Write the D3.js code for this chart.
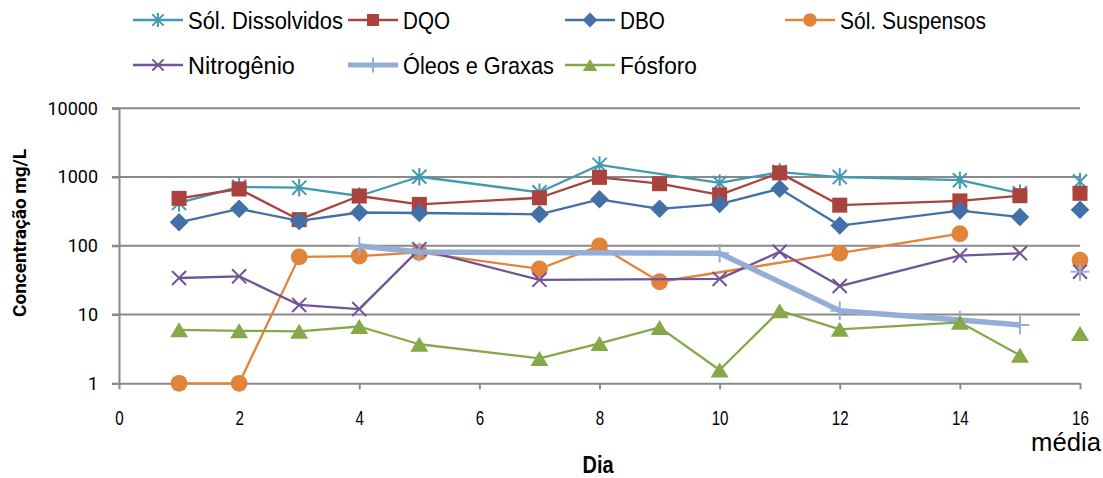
<!DOCTYPE html>
<html>
<head>
<meta charset="utf-8">
<script src="https://cdn.jsdelivr.net/npm/d3@7"></script>
<style>
  html, body { margin: 0; padding: 0; background: #fff; }
  svg { display: block; }
</style>
</head>
<body>
<svg id="chart" width="1103" height="478"></svg>
<script>
// ---- data ----
const days = [1, 2, 3, 4, 5, 7, 8, 9, 10, 11, 12, 14, 15];
const mediaX = 16;
const seriesNames = ["Sól. Dissolvidos", "DQO", "DBO", "Sól. Suspensos", "Nitrogênio", "Óleos e Graxas", "Fósforo"];
const solDissolvidos = [420, 720, 700, 530, 1010, 600, 1500, null, 820, 1180, 1000, 900, 580];
const dqo            = [490, 670, 240, 530, 400, 500, 990, 800, 550, 1150, 390, 450, 535];
const dbo            = [220, 345, 230, 305, 300, 287, 475, 345, 405, 675, 197, 325, 262];
const solSuspensos   = [1, 1, 69, 71, 80, 46, 100, 30, null, null, 78, 150, null];
const nitrogenio     = [34, 36, 13.8, 12, 89, 32, null, null, 33, 82, 26, 72, 78];
const oleosGraxas    = [null, null, null, 99, 81, null, null, null, 78, null, 11.4, 8.3, 7.05];
const fosforo        = [6.0, 5.8, 5.7, 6.7, 3.7, 2.3, 3.8, 6.5, 1.56, 11.4, 6.1, 7.7, 2.55];
const mediaValues    = [860, 580, 335, 62, 42, 42, 5.3];
const xTicks = [0, 2, 4, 6, 8, 10, 12, 14, 16];
const yTicks = [1, 10, 100, 1000, 10000];
const xLabel = "Dia";
const yLabel = "Concentração mg/L";
const mediaLabel = "média";

// ---- styles ----
const colors = ["#4199B2", "#AA423E", "#4470A8", "#E2833A", "#6F5597", "#94ADD6", "#86A84A"];
const markers = ["asterisk", "square", "diamond", "circle", "x", "plus", "triangle"];
const widths = [2.3, 2.3, 2.3, 2.3, 2.3, 5.5, 2.3];
const allValues = [solDissolvidos, dqo, dbo, solSuspensos, nitrogenio, oleosGraxas, fosforo];
const legendTextWidths = [155, 47, 45, 146, 107, 151, 77];

const svg = d3.select("#chart");
const x = d3.scaleLinear().domain([0, 16]).range([119, 1080]);
const y = d3.scaleLog().domain([1, 10000]).range([383.3, 108.3]);
const axisColor = "#8A8A8A";
const sans = "'Liberation Sans', Arial, sans-serif";

// squeeze a text horizontally to a target width (narrow font look)
function fit(sel, target, anchorX, anchorY) {
  sel.each(function () {
    const w = this.getComputedTextLength();
    const s = target / w;
    d3.select(this).attr("x", 0).attr("y", 0)
      .attr("transform", `translate(${anchorX},${anchorY}) scale(${s},1)`);
  });
}

// gridlines
svg.append("g").selectAll("line").data(yTicks.filter(d => d > 1)).join("line")
  .attr("x1", 112).attr("x2", x(16))
  .attr("y1", d => y(d)).attr("y2", d => y(d))
  .attr("stroke", axisColor).attr("stroke-width", 2);

// y axis
const yAxis = d3.axisLeft(y).tickValues(yTicks).tickFormat(d3.format("d")).tickSize(7).tickPadding(14);
const gy = svg.append("g").attr("transform", `translate(${x(0)},0)`).call(yAxis);
gy.select(".domain").attr("stroke", axisColor).attr("stroke-width", 2);
gy.selectAll(".tick line").attr("stroke", axisColor).attr("stroke-width", 2);
gy.selectAll(".tick text").attr("fill", "#000").style("font-family", "Roboto, 'Liberation Sans', sans-serif").style("font-size", "18px");

// x axis
const xAxis = d3.axisBottom(x).tickValues(xTicks).tickSize(6).tickPadding(20).tickSizeOuter(0);
const gx = svg.append("g").attr("transform", `translate(0,${y(1)})`).call(xAxis);
gx.select(".domain").attr("stroke", axisColor).attr("stroke-width", 2);
gx.selectAll(".tick line").attr("stroke", axisColor).attr("stroke-width", 2);
gx.selectAll(".tick text").attr("fill", "#000").attr("dy", null)
  .style("font-family", sans).style("font-size", "21px")
  .attr("transform", "translate(0,42) scale(0.72,1)").attr("y", 0);

const tm = svg.append("text").attr("text-anchor", "end")
  .style("font-family", sans).style("font-size", "25px").text(mediaLabel);
fit(tm, 70, 1101, 451);
const tx = svg.append("text").attr("text-anchor", "middle")
  .style("font-family", sans).style("font-weight", "bold").style("font-size", "24px").text(xLabel);
fit(tx, 31, 598, 473);
svg.append("text").attr("transform", "translate(26,233) rotate(-90)").attr("text-anchor", "middle")
  .style("font-family", "Roboto, 'Liberation Sans', sans-serif").style("font-weight", "bold").style("font-size", "19px").text(yLabel);

// marker drawing
function drawMarker(g, type, color, size) {
  const s = size;
  if (type === "square") {
    g.append("rect").attr("x", -s / 2).attr("y", -s / 2).attr("width", s).attr("height", s).attr("fill", color);
  } else if (type === "diamond") {
    g.append("path").attr("d", `M0,${-s * 0.62}L${s * 0.62},0L0,${s * 0.62}L${-s * 0.62},0Z`).attr("fill", color);
  } else if (type === "circle") {
    g.append("circle").attr("r", s * 0.56).attr("fill", color);
  } else if (type === "triangle") {
    const h = s * 1.0;
    g.append("path").attr("d", `M0,${-h / 2}L${s * 0.6},${h / 2}L${-s * 0.6},${h / 2}Z`).attr("fill", color);
  } else if (type === "x") {
    const a = s * 0.47;
    g.append("path").attr("d", `M${-a},${-a}L${a},${a}M${-a},${a}L${a},${-a}`).attr("stroke", color).attr("stroke-width", 2);
  } else if (type === "plus") {
    const a = s * 0.62;
    g.append("path").attr("d", `M${-a},0L${a},0M0,${-a}L0,${a}`).attr("stroke", color).attr("stroke-width", 2);
  } else if (type === "asterisk") {
    const a = s * 0.47;
    g.append("path").attr("d", `M${-a},${-a}L${a},${a}M${-a},${a}L${a},${-a}M0,${-a * 1.25}L0,${a * 1.25}`).attr("stroke", color).attr("stroke-width", 2);
  }
}

const line = d3.line().x(d => x(d.day)).y(d => y(d.v));
const plot = svg.append("g");
allValues.forEach((vals, i) => {
  const pts = days.map((d, j) => ({ day: d, v: vals[j] })).filter(p => p.v != null);
  const g = plot.append("g");
  g.append("path").datum(pts).attr("d", line).attr("fill", "none")
    .attr("stroke", colors[i]).attr("stroke-width", widths[i]).attr("stroke-linejoin", "round");
  pts.forEach(p => {
    const m = g.append("g").attr("transform", `translate(${x(p.day)},${y(p.v)})`);
    drawMarker(m, markers[i], colors[i], 15);
  });
  const mm = g.append("g").attr("transform", `translate(${x(mediaX)},${y(mediaValues[i])})`);
  drawMarker(mm, markers[i], colors[i], 15);
});

// legend
const legendPos = [
  [133, 20], [348, 20], [565, 20], [785, 20],
  [133, 65], [348, 65], [565, 65]
];
seriesNames.forEach((name, i) => {
  const [lx, ly] = legendPos[i];
  const g = svg.append("g").attr("transform", `translate(${lx},${ly})`);
  g.append("line").attr("x1", 0).attr("x2", 50).attr("y1", 0).attr("y2", 0)
    .attr("stroke", colors[i]).attr("stroke-width", widths[i] > 3 ? 5 : 2.5);
  const m = g.append("g").attr("transform", "translate(25,0)");
  drawMarker(m, markers[i], colors[i], 12);
  const t = g.append("text").style("font-family", sans).style("font-size", "24px").text(name);
  fit(t, legendTextWidths[i], 55, 8.5);
});
</script>
</body>
</html>
